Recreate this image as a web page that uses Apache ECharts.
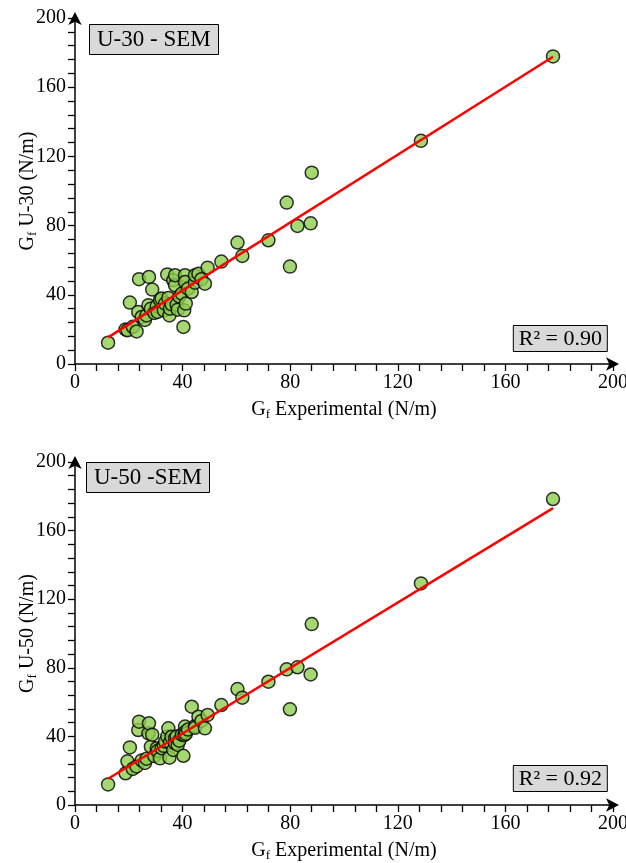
<!DOCTYPE html>
<html>
<head>
<meta charset="utf-8">
<script src="https://cdn.jsdelivr.net/npm/echarts@6/dist/echarts.min.js"></script>
<style>
  html, body { margin: 0; padding: 0; background: #fff; }
  #chart { width: 626px; height: 863px; }
</style>
</head>
<body>
<div id="chart"></div>
<script>
// Experimental fracture energy Gf (N/m), shared by both panels
const gfExperimental = [
  12.3, 18.8, 19.5, 20.4, 21.5, 22.9, 23.5, 23.8, 24.8, 26.0,
  26.6, 27.3, 27.5, 28.2, 28.7, 29.5, 30.4, 30.7, 31.6, 32.2,
  33.0, 33.5, 34.3, 34.7, 35.1, 35.3, 35.9, 36.5, 37.2, 37.2,
  37.8, 38.2, 38.8, 39.7, 40.3, 40.6, 40.9, 40.9, 41.2, 42.0,
  43.4, 44.6, 44.6, 45.9, 47.0, 48.3, 49.3, 54.4, 60.4, 62.2,
  71.9, 78.7, 79.9, 82.7, 87.6, 88.0, 128.6, 177.7
];
// Predicted Gf, U-30 model (N/m)
const gfU30 = [
  12.3, 20.0, 19.5, 35.5, 21.5, 18.8, 30.1, 49.0, 27.2, 25.5,
  28.1, 34.0, 50.3, 32.0, 43.0, 29.5, 33.5, 30.1, 37.0, 37.8,
  31.0, 34.9, 51.8, 38.2, 28.1, 32.0, 34.5, 48.4, 45.5, 51.3,
  34.3, 31.4, 39.0, 40.7, 21.4, 31.0, 51.3, 47.4, 34.9, 43.5,
  41.6, 47.0, 51.3, 52.2, 49.0, 46.4, 55.7, 59.2, 70.2, 62.5,
  71.5, 93.3, 56.3, 79.8, 81.3, 110.6, 129.0, 177.8
];
// Predicted Gf, U-50 model (N/m)
const gfU50 = [
  12.0, 18.5, 25.5, 33.6, 21.0, 22.5, 43.7, 48.6, 26.0, 24.5,
  27.0, 41.8, 47.6, 34.0, 41.0, 28.5, 33.1, 31.5, 27.2, 33.1,
  34.5, 37.0, 40.0, 44.7, 27.6, 36.5, 39.8, 32.1, 38.9, 36.0,
  40.0, 35.0, 37.5, 41.0, 28.7, 40.8, 45.7, 42.5, 41.5, 44.0,
  57.3, 46.0, 45.0, 51.5, 49.0, 44.7, 52.5, 58.3, 67.6, 62.6,
  71.9, 79.1, 55.8, 80.3, 76.1, 105.5, 129.2, 178.4
];
// Linear fits (slope, intercept) and coefficients of determination
const fitU30 = { slope: 0.981, intercept: 3.3 };
const fitU50 = { slope: 0.954, intercept: 3.6 };
const r2U30 = '0.90';
const r2U50 = '0.92';
const panelTitles = ['U-30 - SEM', 'U-50 -SEM'];
const axisTicks = [0, 40, 80, 120, 160, 200];

const FONT = '"Liberation Serif", "DejaVu Serif", serif';
const pairs = (xs, ys) => xs.map((x, i) => [x, ys[i]]);
const xMin = Math.min(...gfExperimental);
const xMax = Math.max(...gfExperimental);
const fitLine = f => [[xMin, f.intercept + f.slope * xMin], [xMax, f.intercept + f.slope * xMax]];

const baseAxis = {
  min: axisTicks[0],
  max: axisTicks[axisTicks.length - 1],
  interval: axisTicks[1] - axisTicks[0],
  splitLine: { show: false },
  axisLine: { show: true, symbol: ['none', 'arrow'], symbolSize: [10, 13], symbolOffset: [0, 6],
              lineStyle: { color: '#000', width: 1.5 } },
  axisTick: { show: true, inside: false, length: 7, lineStyle: { color: '#000', width: 1.3 } },
  minorTick: { show: true, splitNumber: 5, length: 7, lineStyle: { color: '#000', width: 1.3 } },
  axisLabel: { color: '#000', fontFamily: FONT, fontSize: 20 },
  nameTextStyle: { color: '#000', fontFamily: FONT, fontSize: 20 }
};

const richName = {
  g: { fontFamily: FONT, fontSize: 20, color: '#000', lineHeight: 22 },
  s: { fontFamily: FONT, fontSize: 13, color: '#000', verticalAlign: 'bottom', lineHeight: 14, padding: [10, 0, 0, 0] }
};

const grids = [
  { left: 75, top: 18, width: 538, height: 346, outerBoundsMode: 'none', containLabel: false },
  { left: 75, top: 462, width: 538, height: 343, outerBoundsMode: 'none', containLabel: false }
];

const xAxes = grids.map((g, i) => Object.assign({}, baseAxis, {
  type: 'value', gridIndex: i,
  name: '{g|G}{s|f}{g| Experimental (N/m)}',
  nameLocation: 'middle', nameGap: 35,
  nameTextStyle: { rich: richName },
  axisLabel: Object.assign({}, baseAxis.axisLabel, { margin: 9 })
}));
const yAxes = grids.map((g, i) => Object.assign({}, baseAxis, {
  type: 'value', gridIndex: i,
  name: '{g|G}{s|f}{g| U-' + (i === 0 ? '30' : '50') + ' (N/m)}',
  nameLocation: 'middle', nameGap: 36, nameRotate: 90, nameMoveOverlap: false,
  nameTextStyle: { rich: richName },
  axisLabel: Object.assign({}, baseAxis.axisLabel, { margin: 9 })
}));

const boxText = { fontFamily: FONT, fontSize: 23, fontWeight: 'normal', color: '#000' };
const r2Text = { fontFamily: FONT, fontSize: 22, fontWeight: 'normal', color: '#000' };
const titles = [
  { text: panelTitles[0], left: 89, top: 24, padding: [4, 8, 4, 8], textStyle: boxText },
  { text: panelTitles[1], left: 86, top: 462, padding: [4, 8, 4, 8], textStyle: boxText },
  { text: 'R² = ' + r2U30, right: 18, top: 325, padding: [3, 6, 2, 6], textStyle: r2Text },
  { text: 'R² = ' + r2U50, right: 18, top: 765, padding: [3, 6, 2, 6], textStyle: r2Text }
].map(t => Object.assign({
  backgroundColor: '#d9d9d9', borderColor: '#000', borderWidth: 1
}, t));

const scatterStyle = { color: '#8fcd4f', borderColor: '#000', borderWidth: 1.5 };
const series = [];
[[gfU30, fitU30], [gfU50, fitU50]].forEach(([ys, fit], i) => {
  series.push({
    type: 'line', xAxisIndex: i, yAxisIndex: i, data: fitLine(fit),
    showSymbol: false, symbol: 'none', silent: true,
    lineStyle: { color: '#ff0000', width: 2.5 }, z: 3
  });
  series.push({
    type: 'scatter', xAxisIndex: i, yAxisIndex: i,
    data: pairs(gfExperimental, ys), symbolSize: 13,
    itemStyle: scatterStyle, z: 2
  });
});

const chart = echarts.init(document.getElementById('chart'), null, { renderer: 'canvas' });
chart.setOption({
  animation: false,
  backgroundColor: '#fff',
  title: titles,
  grid: grids,
  xAxis: xAxes,
  yAxis: yAxes,
  series: series
});
</script>
</body>
</html>
